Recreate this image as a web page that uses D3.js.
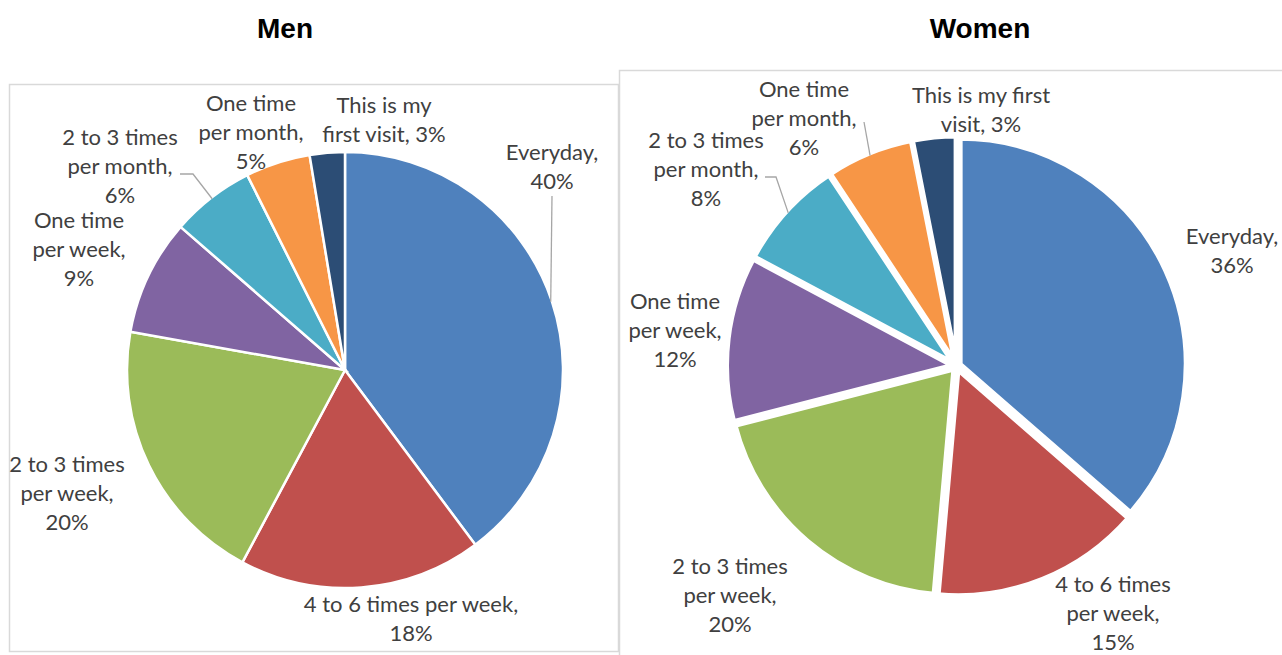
<!DOCTYPE html>
<html><head><meta charset="utf-8">
<script src="https://cdn.jsdelivr.net/npm/d3@7"></script>
<style>
html,body{margin:0;padding:0;background:#fff;}
svg{display:block;}
</style></head>
<body>
<svg id="chart" width="1282" height="655"></svg>
<script>
// ---- data ----
const categories = ["Everyday", "4 to 6 times per week", "2 to 3 times per week", "One time per week",
  "2 to 3 times per month", "One time per month", "This is my first visit"];
const menValues   = [39.8, 18.0, 20.0, 8.6, 6.2, 4.8, 2.6];
const womenValues = [36.4, 15.0, 19.6, 11.8, 7.9, 6.2, 3.1];
const colors = ["#4F81BD", "#C0504D", "#9BBB59", "#8064A2", "#4BACC6", "#F79646", "#2C4D75"];
const titles = ["Men", "Women"];

// label text lines (without the percent, which comes from the values)
const menLabelLines = [["Everyday,"], ["4 to 6 times per week,"], ["2 to 3 times", "per week,"], ["One time", "per week,"],
  ["2 to 3 times", "per month,"], ["One time", "per month,"], ["This is my", "first visit, "]];
const womenLabelLines = [["Everyday,"], ["4 to 6 times", "per week,"], ["2 to 3 times", "per week,"], ["One time", "per week,"],
  ["2 to 3 times", "per month,"], ["One time", "per month,"], ["This is my first", "visit, "]];

// ---- layout ----
const svg = d3.select("#chart");
const lineH = 29;
const fmt = v => Math.round(v) + "%";

const charts = [
  {
    title: titles[0], titleX: 285, titleY: 38,
    box: {x: 9.5, y: 84.5, w: 609, h: 567},
    cx: 345, cy: 370, r: 218, explode: 0, sw: 2.5,
    values: menValues, lines: menLabelLines,
    labels: [
      {x: 552, y: 160, leader: [[552, 196]]},
      {x: 411, y: 612},
      {x: 67, y: 472},
      {x: 79, y: 228},
      {x: 120, y: 145, leader: [[180, 174], [193, 174]]},
      {x: 251, y: 111},
      {x: 384, y: 113, join: true}
    ]
  },
  {
    title: titles[1], titleX: 980, titleY: 38,
    box: {x: 619.5, y: 70.5, w: 700, h: 620},
    cx: 956.5, cy: 366, r: 226, explode: 4, sw: 5,
    values: womenValues, lines: womenLabelLines,
    labels: [
      {x: 1232, y: 244},
      {x: 1113, y: 592},
      {x: 730, y: 574},
      {x: 675, y: 309},
      {x: 706, y: 148, leader: [[765, 177], [776, 177]]},
      {x: 804, y: 97, leader: [[864, 122]]},
      {x: 981, y: 103, join: true}
    ]
  }
];

charts.forEach(c => {
  svg.append("rect")
    .attr("x", c.box.x).attr("y", c.box.y).attr("width", c.box.w).attr("height", c.box.h)
    .attr("fill", "none").attr("stroke", "#D9D9D9").attr("stroke-width", 1.5);
});
charts.forEach(c => {
  svg.append("text").attr("x", c.titleX).attr("y", c.titleY)
    .attr("text-anchor", "middle")
    .attr("font-family", "Liberation Sans, Arial, sans-serif")
    .attr("font-weight", "bold").attr("font-size", 28).attr("fill", "#000")
    .text(c.title);

  const pie = d3.pie().sort(null).value(d => d)(c.values);
  const arc = d3.arc().innerRadius(0).outerRadius(c.r);
  const g = svg.append("g").attr("transform", `translate(${c.cx},${c.cy})`);

  g.selectAll("path").data(pie).join("path")
    .attr("d", arc)
    .attr("fill", (d, i) => colors[i])
    .attr("stroke", "#fff").attr("stroke-width", c.sw).attr("stroke-linejoin", "miter")
    .attr("transform", d => {
      const m = (d.startAngle + d.endAngle) / 2;
      return `translate(${c.explode * Math.sin(m)},${-c.explode * Math.cos(m)})`;
    });

  pie.forEach((d, i) => {
    const L = c.labels[i];
    let lines = c.lines[i].slice();
    const pct = fmt(c.values[i]);
    if (L.join) lines[lines.length - 1] = lines[lines.length - 1] + pct;
    else lines.push(pct);
    const t = svg.append("text")
      .attr("text-anchor", "middle")
      .attr("font-family", "Lato, 'Open Sans', sans-serif")
      .attr("font-size", 22).attr("fill", "#404040");
    lines.forEach((ln, k) => {
      t.append("tspan").attr("x", L.x).attr("y", L.y + k * lineH).text(ln);
    });
    if (L.leader) {
      const m = (d.startAngle + d.endAngle) / 2;
      const rr = c.r + c.explode - c.sw / 2;
      const end = [c.cx + rr * Math.sin(m), c.cy - rr * Math.cos(m)];
      const pts = L.leader.concat([end]);
      svg.append("path")
        .attr("d", d3.line()(pts))
        .attr("fill", "none").attr("stroke", "#A6A6A6").attr("stroke-width", 1.3);
    }
  });
});
</script>
</body></html>
